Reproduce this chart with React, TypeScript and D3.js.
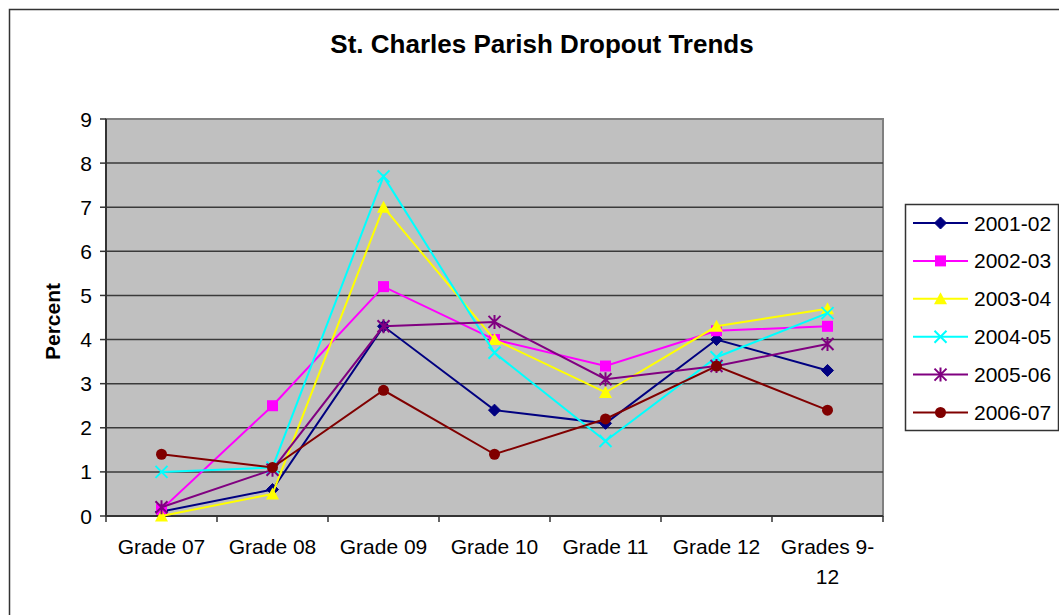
import React from "react";
import * as d3 from "d3";

const categories = ["Grade 07", "Grade 08", "Grade 09", "Grade 10", "Grade 11", "Grade 12", "Grades 9-12"];
const seriesNames = ["2001-02", "2002-03", "2003-04", "2004-05", "2005-06", "2006-07"];
const v200102 = [0.1, 0.6, 4.3, 2.4, 2.1, 4.0, 3.3];
const v200203 = [0.15, 2.5, 5.2, 4.0, 3.4, 4.2, 4.3];
const v200304 = [0.0, 0.5, 7.0, 4.0, 2.8, 4.3, 4.7];
const v200405 = [1.0, 1.1, 7.7, 3.7, 1.7, 3.6, 4.6];
const v200506 = [0.2, 1.05, 4.3, 4.4, 3.1, 3.4, 3.9];
const v200607 = [1.4, 1.1, 2.85, 1.4, 2.2, 3.4, 2.4];
const seriesValues = [v200102, v200203, v200304, v200405, v200506, v200607];
const seriesColors = ["#000080", "#FF00FF", "#FFFF00", "#00FFFF", "#800080", "#800000"];
const markerKinds = ["diamond", "square", "triangle", "x", "star", "circle"];
const yTicks = [0, 1, 2, 3, 4, 5, 6, 7, 8, 9];

const W = 1059;
const H = 615;
const plot = { left: 106, right: 883, top: 119, bottom: 516 };

function Marker({ kind, x, y, color }: { kind: string; x: number; y: number; color: string }) {
  const s = 6;
  switch (kind) {
    case "diamond":
      return <path d={`M${x},${y - s}L${x + s},${y}L${x},${y + s}L${x - s},${y}Z`} fill={color} stroke={color} strokeWidth={1} />;
    case "square":
      return <rect x={x - 5.5} y={y - 5.5} width={11} height={11} fill={color} />;
    case "triangle":
      return <path d={`M${x},${y - 6.5}L${x + 6.5},${y + 5.5}L${x - 6.5},${y + 5.5}Z`} fill={color} />;
    case "x":
      return <path d={`M${x - s},${y - s}L${x + s},${y + s}M${x - s},${y + s}L${x + s},${y - s}`} stroke={color} strokeWidth={2} fill="none" />;
    case "star":
      return <path d={`M${x - s},${y - s}L${x + s},${y + s}M${x - s},${y + s}L${x + s},${y - s}M${x},${y - s - 1}L${x},${y + s + 1}`} stroke={color} strokeWidth={2} fill="none" />;
    default:
      return <circle cx={x} cy={y} r={5.5} fill={color} />;
  }
}

export default function App() {
  const x = d3.scaleBand<string>().domain(categories).range([plot.left, plot.right]).padding(0);
  const y = d3.scaleLinear().domain([0, 9]).range([plot.bottom, plot.top]);
  const cx = (c: string) => (x(c) as number) + x.bandwidth() / 2;
  const line = d3
    .line<number>()
    .x((_, i) => cx(categories[i]))
    .y((d) => y(d));
  const font = "Arial, 'Liberation Sans', sans-serif";
  const legend = { x: 905.5, y: 204.5, w: 153, h: 226, row0: 223, step: 37.9 };
  const fs = 21;

  return (
    <svg width={W} height={H} style={{ position: "absolute", left: 0, top: 0, fontFamily: font }}>
      <rect x={0} y={0} width={W} height={H} fill="#fff" />
      <rect x={9.5} y={9.5} width={W + 20} height={H + 20} fill="none" stroke="#333" strokeWidth={1.5} />
      <text x={542} y={53} textAnchor="middle" fontWeight="bold" fontSize={26}>
        St. Charles Parish Dropout Trends
      </text>
      {/* plot area */}
      <rect x={plot.left} y={plot.top} width={plot.right - plot.left} height={plot.bottom - plot.top} fill="#C0C0C0" stroke="#808080" strokeWidth={2} />
      {yTicks.map((t) => (
        <g key={t}>
          {t > 0 && t < 9 && <line x1={plot.left} x2={plot.right} y1={y(t)} y2={y(t)} stroke="#3a3a3a" strokeWidth={1.5} />}
          <line x1={plot.left - 6} x2={plot.left} y1={y(t)} y2={y(t)} stroke="#333" strokeWidth={1.5} />
          <text x={92} y={y(t) + 7.5} textAnchor="end" fontSize={fs}>
            {t}
          </text>
        </g>
      ))}
      <line x1={plot.left} x2={plot.left} y1={plot.top} y2={plot.bottom} stroke="#333" strokeWidth={2} />
      <line x1={plot.left} x2={plot.right} y1={plot.bottom} y2={plot.bottom} stroke="#333" strokeWidth={2} />
      {d3.range(categories.length + 1).map((i) => {
        const xx = plot.left + i * x.bandwidth();
        return <line key={i} x1={xx} x2={xx} y1={plot.bottom} y2={plot.bottom + 6} stroke="#333" strokeWidth={1.5} />;
      })}
      {categories.map((c) => {
        const parts = c.length > 9 ? c.split(/(?<=-)/) : [c];
        return (
          <text key={c} x={cx(c)} y={554} textAnchor="middle" fontSize={fs}>
            {parts.map((p, i) => (
              <tspan key={i} x={cx(c)} dy={i === 0 ? 0 : 30}>
                {p}
              </tspan>
            ))}
          </text>
        );
      })}
      <text transform={`translate(60,321.5) rotate(-90)`} textAnchor="middle" fontWeight="bold" fontSize={fs}>
        Percent
      </text>
      {seriesValues.map((vals, si) => (
        <g key={si}>
          <path d={line(vals) || ""} fill="none" stroke={seriesColors[si]} strokeWidth={2} />
          {vals.map((v, i) => (
            <Marker key={i} kind={markerKinds[si]} x={cx(categories[i])} y={y(v)} color={seriesColors[si]} />
          ))}
        </g>
      ))}
      {/* legend */}
      <rect x={legend.x} y={legend.y} width={legend.w} height={legend.h} fill="#fff" stroke="#333" strokeWidth={1.5} />
      {seriesNames.map((n, i) => {
        const yy = legend.row0 + i * legend.step;
        return (
          <g key={n}>
            <line x1={913} x2={968} y1={yy} y2={yy} stroke={seriesColors[i]} strokeWidth={2} />
            <Marker kind={markerKinds[i]} x={940.5} y={yy} color={seriesColors[i]} />
            <text x={974} y={yy + 7.5} fontSize={fs}>
              {n}
            </text>
          </g>
        );
      })}
    </svg>
  );
}
